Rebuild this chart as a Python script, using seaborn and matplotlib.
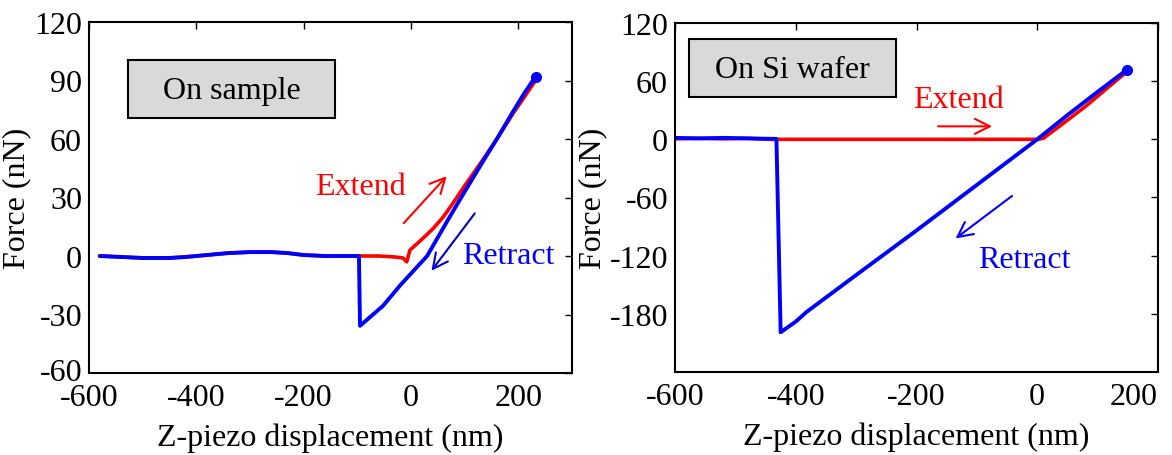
import matplotlib
matplotlib.use("Agg")
import matplotlib.pyplot as plt
import matplotlib.patches as patches
import matplotlib.transforms as mtransforms
import seaborn as sns
import pandas as pd

# ---- data: left panel (On sample) ----
sample_ext_x = [-580, -540, -500, -450, -420, -380, -340, -300, -260, -230, -200, -160, -120, -60, -30, -15, -8, -2, 20, 41, 60, 78, 100, 133, 160, 190, 210, 232]
sample_ext_y = [0, -0.5, -1, -1, -0.5, 0.5, 1.5, 2, 2, 1.5, 0.5, 0, 0, 0, -0.5, -1, -3, 3, 8.5, 14, 20, 27, 36, 49, 60, 73, 81, 90]
sample_ret_x = [-580, -540, -500, -450, -420, -380, -340, -300, -260, -230, -200, -160, -120, -97, -95, -52, -20, 30, 72, 100, 133, 160, 190, 210, 232]
sample_ret_y = [0, -0.5, -1, -1, -0.5, 0.5, 1.5, 2, 2, 1.5, 0.5, 0, 0, 0, -35.8, -25.5, -15, 0, 20, 33, 48, 60, 74, 83, 92]

# ---- data: right panel (On Si wafer) ----
si_ext_x = [-600, -560, -520, -480, -440, -300, -100, 0, 10, 40, 80, 120, 145]
si_ext_y = [0.5, 1, 0.5, 1, 0, 0, 0, 0, 1, 15, 34, 55, 68]
si_ret_x = [-600, -560, -520, -480, -440, -432, -425, -400, -382, -300, -200, -100, 0, 50, 100, 149]
si_ret_y = [1.5, 1, 1.5, 1, 0.5, 0.5, -199, -188, -178, -140, -94, -47, 0, 25, 49, 72]

left_xticks = [-600, -400, -200, 0, 200]
left_yticks = [-60, -30, 0, 30, 60, 90, 120]
right_xticks = [-600, -400, -200, 0, 200]
right_yticks = [-180, -120, -60, 0, 60, 120]

sns.set_theme(style="white")
plt.rcParams["font.family"] = ["Liberation Serif", "DejaVu Serif"]
plt.rcParams["text.color"] = "black"
plt.rcParams["axes.labelcolor"] = "black"

RED = "#ff0000"
BLUE = "#0000ff"
FS = 23

fig = plt.figure(figsize=(11.72, 4.56), dpi=100)
axL = fig.add_axes([89/1172, (456-374)/456, (572-89)/1172, (374-23)/456])
axR = fig.add_axes([675/1172, (456-373)/456, (1158-675)/1172, (373-24)/456])


def style(ax, xlim, ylim, xt, yt):
    ax.set_xlim(*xlim)
    ax.set_ylim(*ylim)
    ax.set_xticks(xt)
    ax.set_yticks(yt)
    ax.set_xticklabels([str(v) for v in xt])
    ax.set_yticklabels([str(v) for v in yt])
    ax.tick_params(direction="in", length=5, width=1, top=True, right=True,
                   labelsize=FS, colors="black")
    ax.tick_params(axis="x", pad=7)
    ax.tick_params(axis="y", pad=5)
    for s in ax.spines.values():
        s.set_visible(True)
        s.set_color("black")
        s.set_linewidth(1.5)
    ax.set_xlabel("Z-piezo displacement (nm)", fontsize=FS, labelpad=8, color="black")
    ax.set_ylabel("Force (nN)", fontsize=FS, labelpad=2, color="black")


def draw(ax, ex, ey, rx, ry):
    dfe = pd.DataFrame({"x": ex, "y": ey})
    dfr = pd.DataFrame({"x": rx, "y": ry})
    sns.lineplot(data=dfe, x="x", y="y", ax=ax, color=RED, lw=2.6,
                 sort=False, estimator=None)
    sns.lineplot(data=dfr, x="x", y="y", ax=ax, color=BLUE, lw=2.8,
                 sort=False, estimator=None)
    ax.plot(rx[-1:], ry[-1:], "o", color=BLUE, ms=7)


draw(axL, sample_ext_x, sample_ext_y, sample_ret_x, sample_ret_y)
draw(axR, si_ext_x, si_ext_y, si_ret_x, si_ret_y)
style(axL, (-600, 300), (-60, 120), left_xticks, left_yticks)
style(axR, (-600, 200), (-240, 120), right_xticks, right_yticks)

# last x label of right panel kept inside the figure
lbl = axR.get_xticklabels()[-1]
lbl.set_horizontalalignment("right")

# nudge the bottom y label of the left panel up a little so it clears "-600"
low = axL.get_yticklabels()[0]
low.set_transform(low.get_transform() +
                  mtransforms.ScaledTranslation(0, 3/72, fig.dpi_scale_trans))


def box(ax, x, y, w, h, txt, tx, ty):
    ax.add_patch(patches.Rectangle((x, y), w, h, transform=ax.transAxes,
                                   facecolor="#d9d9d9", edgecolor="black",
                                   lw=1.5, zorder=5))
    ax.text(tx, ty, txt, transform=ax.transAxes, fontsize=FS, ha="center",
            va="center", zorder=6, color="black")

box(axL, 0.081, 0.726, 0.429, 0.165, "On sample", 0.296, 0.806)
box(axR, 0.029, 0.788, 0.429, 0.166, "On Si wafer", 0.243, 0.868)

arrow = dict(arrowstyle="->,head_length=0.9,head_width=0.45", lw=1.5)

# left annotations
axL.text(-94, 35.8, "Extend", color=RED, fontsize=FS, ha="center", va="center")
axL.annotate("", xy=(70, 42), xytext=(-17, 15.8),
             arrowprops=dict(color=RED, **arrow))
axL.text(181, 0, "Retract", color=BLUE, fontsize=FS, ha="center", va="center")
axL.annotate("", xy=(35, -8.7), xytext=(122, 23),
             arrowprops=dict(color="#0000cc", **arrow))

# right annotations
axR.text(-131, 41, "Extend", color=RED, fontsize=FS, ha="center", va="center")
axR.annotate("", xy=(-70, 13.4), xytext=(-169, 13.4),
             arrowprops=dict(color=RED, **arrow))
axR.text(-22, -123.5, "Retract", color=BLUE, fontsize=FS, ha="center", va="center")
axR.annotate("", xy=(-139, -104), xytext=(-38, -56.6),
             arrowprops=dict(color=BLUE, **arrow))

fig.savefig("out.png", dpi=100)
